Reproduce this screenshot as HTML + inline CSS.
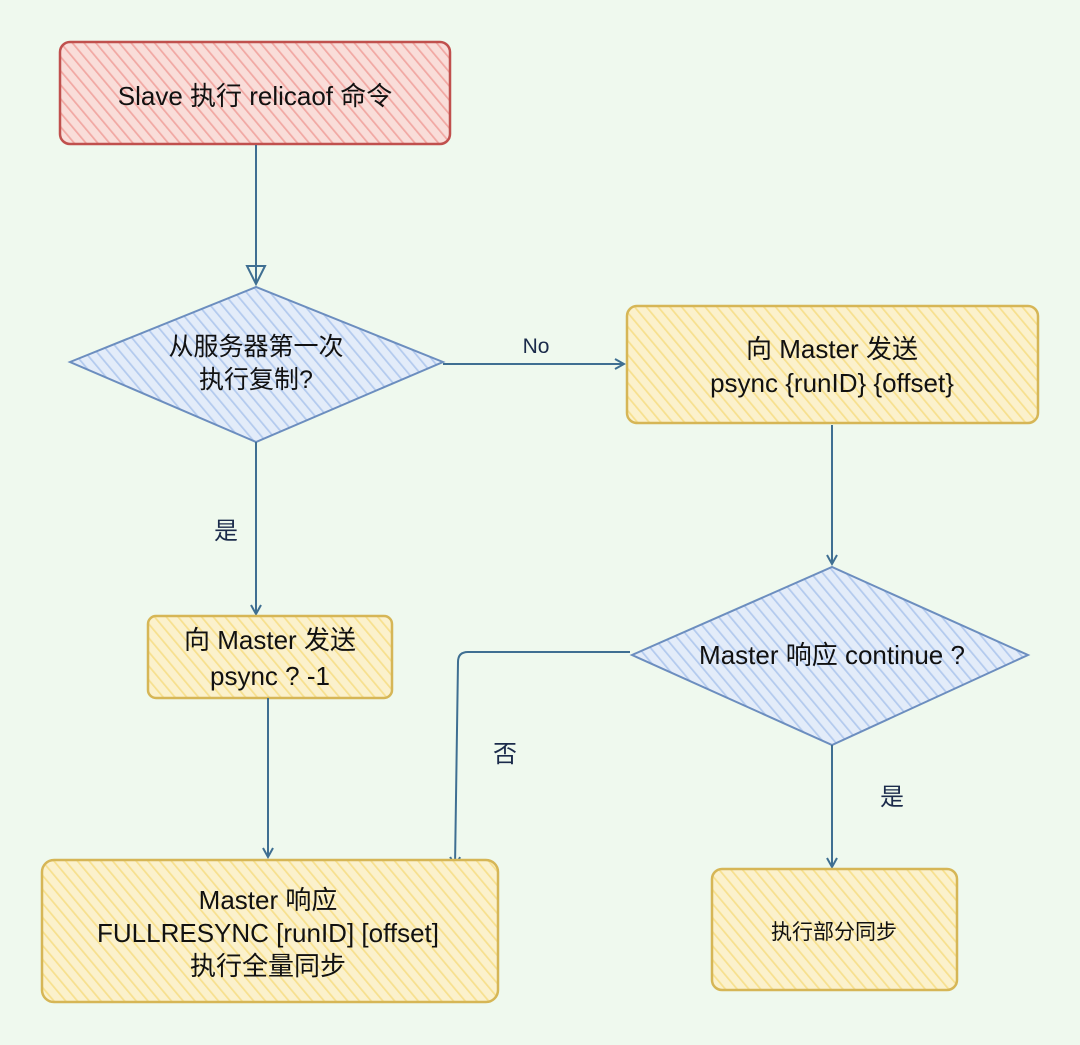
<!DOCTYPE html>
<html><head><meta charset="utf-8"><style>
html,body{margin:0;padding:0;background:#eff9ee;}
svg{display:block}
text{font-family:"Liberation Sans","Noto Sans CJK SC",sans-serif;fill:#111;}
</style></head><body>
<svg width="1080" height="1045" viewBox="0 0 1080 1045" xmlns="http://www.w3.org/2000/svg">
<defs>
<pattern id="hr" width="9" height="9" patternUnits="userSpaceOnUse" patternTransform="rotate(-40)">
<rect width="9" height="9" fill="#f9ddd9"/><line x1="0" y1="0" x2="0" y2="9" stroke="#f1a8a3" stroke-width="3.5"/></pattern>
<pattern id="hy" width="9" height="9" patternUnits="userSpaceOnUse" patternTransform="rotate(-40)">
<rect width="9" height="9" fill="#fbf1cc"/><line x1="0" y1="0" x2="0" y2="9" stroke="#f7e08e" stroke-width="3.5"/></pattern>
<pattern id="hb" width="9" height="9" patternUnits="userSpaceOnUse" patternTransform="rotate(-40)">
<rect width="9" height="9" fill="#e3ecf9"/><line x1="0" y1="0" x2="0" y2="9" stroke="#b3caee" stroke-width="3.5"/></pattern>
<marker id="ar" markerWidth="12" markerHeight="12" refX="10" refY="6" orient="auto" markerUnits="userSpaceOnUse">
<path d="M1,1 L10,6 L1,11" fill="none" stroke="#3f6f92" stroke-width="2"/></marker>
<marker id="at" markerWidth="22" markerHeight="22" refX="19" refY="11" orient="auto" markerUnits="userSpaceOnUse">
<path d="M1,2 L19,11 L1,20 Z" fill="none" stroke="#3f6f92" stroke-width="2"/></marker>
</defs>

<rect x="60" y="42" width="390" height="102" rx="10" fill="url(#hr)" stroke="#c0504d" stroke-width="2.5"/>
<text x="255" y="105" font-size="26" text-anchor="middle">Slave 执行 relicaof 命令</text>

<line x1="256" y1="145" x2="256" y2="284" stroke="#3f6f92" stroke-width="2" marker-end="url(#at)"/>

<polygon points="70,362 256,287 443,362 256,442" fill="url(#hb)" stroke="#6c8ebf" stroke-width="2"/>
<text x="256" y="355" font-size="25" text-anchor="middle">从服务器第一次</text>
<text x="256" y="388" font-size="25" text-anchor="middle">执行复制?</text>

<line x1="443" y1="364" x2="624" y2="364" stroke="#3f6f92" stroke-width="2" marker-end="url(#ar)"/>
<text x="536" y="353" font-size="21" text-anchor="middle" style="fill:#1b2b4b">No</text>

<rect x="627" y="306" width="411" height="117" rx="10" fill="url(#hy)" stroke="#d6b656" stroke-width="2.5"/>
<text x="832" y="358" font-size="26" text-anchor="middle">向 Master 发送</text>
<text x="832" y="392" font-size="26" text-anchor="middle">psync  {runID} {offset}</text>

<line x1="832" y1="425" x2="832" y2="564" stroke="#3f6f92" stroke-width="2" marker-end="url(#ar)"/>

<polygon points="632,655 832,567 1028,655 832,745" fill="url(#hb)" stroke="#6c8ebf" stroke-width="2"/>
<text x="832" y="664" font-size="26" text-anchor="middle">Master 响应 continue ?</text>

<line x1="832" y1="745" x2="832" y2="867" stroke="#3f6f92" stroke-width="2" marker-end="url(#ar)"/>
<text x="892" y="805" font-size="24" text-anchor="middle" style="fill:#1b2b4b">是</text>

<rect x="712" y="869" width="245" height="121" rx="10" fill="url(#hy)" stroke="#d6b656" stroke-width="2.5"/>
<text x="834" y="939" font-size="21" text-anchor="middle">执行部分同步</text>

<path d="M630,652 L468,652 Q458,652 458,662 L455,866" fill="none" stroke="#3f6f92" stroke-width="2" marker-end="url(#ar)"/>
<text x="505" y="762" font-size="24" text-anchor="middle" style="fill:#1b2b4b">否</text>

<line x1="256" y1="442" x2="256" y2="614" stroke="#3f6f92" stroke-width="2" marker-end="url(#ar)"/>
<text x="226" y="539" font-size="24" text-anchor="middle" style="fill:#1b2b4b">是</text>

<rect x="148" y="616" width="244" height="82" rx="8" fill="url(#hy)" stroke="#d6b656" stroke-width="2.5"/>
<text x="270" y="649" font-size="26" text-anchor="middle">向 Master 发送</text>
<text x="270" y="685" font-size="26" text-anchor="middle">psync ? -1</text>

<line x1="268" y1="698" x2="268" y2="857" stroke="#3f6f92" stroke-width="2" marker-end="url(#ar)"/>

<rect x="42" y="860" width="456" height="142" rx="12" fill="url(#hy)" stroke="#d6b656" stroke-width="2.5"/>
<text x="268" y="909" font-size="26" text-anchor="middle">Master 响应</text>
<text x="268" y="942" font-size="26" text-anchor="middle">FULLRESYNC [runID] [offset]</text>
<text x="268" y="975" font-size="26" text-anchor="middle">执行全量同步</text>
</svg>
</body></html>
